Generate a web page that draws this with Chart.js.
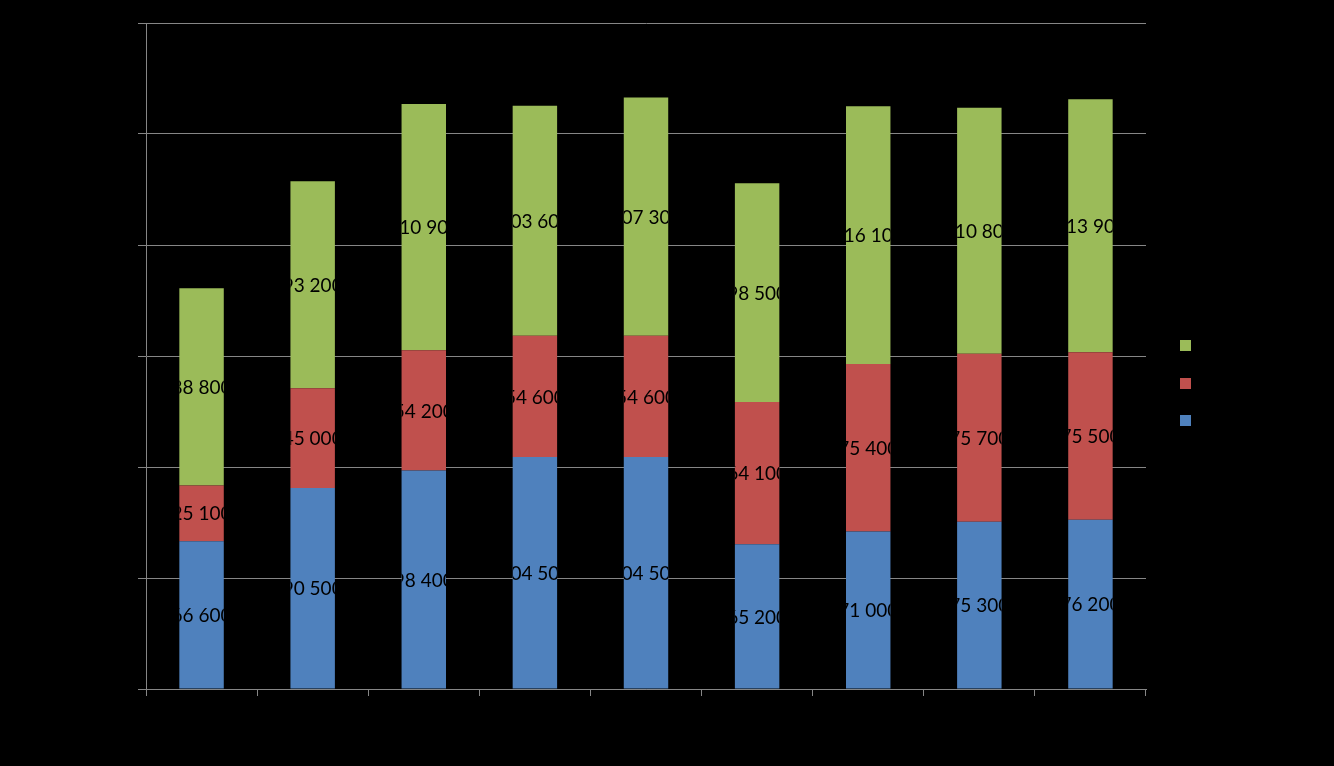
<!DOCTYPE html>
<html>
<head>
<meta charset="utf-8">
<script src="https://cdn.jsdelivr.net/npm/chart.js@4.4.0/dist/chart.umd.min.js"></script>
<style>
  html, body { margin: 0; padding: 0; background: #000; }
  #wrap { width: 1334px; height: 766px; position: relative; }
</style>
</head>
<body>
<div id="wrap"><canvas id="chart" width="1334" height="766"></canvas></div>
<script>
// data
const categories = ['1', '2', '3', '4', '5', '6', '7', '8', '9'];
const seriesNames = ['Series 1', 'Series 2', 'Series 3'];
const blueValues = [66600, 90500, 98400, 104500, 104500, 65200, 71000, 75300, 76200];
const redValues = [25100, 45000, 54200, 54600, 54600, 64100, 75400, 75700, 75500];
const greenValues = [88800, 93200, 110900, 103600, 107300, 98500, 116100, 110800, 113900];
const yMax = 300000;
const yStep = 50000;

const colors = ['#4F81BD', '#C0504D', '#9BBB59'];
const gridColor = '#868686';

function fmt(v) {
    return String(v).replace(/\B(?=(\d{3})+(?!\d))/g, ' ');
}

// labels inside each bar segment, clipped to the bar like the original
const barLabels = {
    id: 'barLabels',
    afterDatasetsDraw(chart) {
        const ctx = chart.ctx;
        chart.data.datasets.forEach((ds, i) => {
            const meta = chart.getDatasetMeta(i);
            meta.data.forEach((bar, j) => {
                const top = Math.min(bar.y, bar.base);
                const bottom = Math.max(bar.y, bar.base);
                ctx.save();
                ctx.beginPath();
                ctx.rect(bar.x - bar.width / 2, top, bar.width, bottom - top);
                ctx.clip();
                ctx.fillStyle = '#000';
                ctx.font = '19px Lato, "Open Sans", sans-serif';
                ctx.textAlign = 'center';
                ctx.textBaseline = 'middle';
                ctx.fillText(fmt(ds.data[j]), bar.x, (top + bottom) / 2 + 1);
                ctx.restore();
            });
        });
    }
};

// legend on the right: squares, text is black like the original
const sideLegend = {
    id: 'sideLegend',
    afterDraw(chart) {
        const ctx = chart.ctx;
        const area = chart.chartArea;
        const n = chart.data.datasets.length;
        const x = area.right + 34;
        const midY = chart.height / 2;
        ctx.save();
        ctx.font = '14px Lato, sans-serif';
        ctx.textBaseline = 'middle';
        for (let k = 0; k < n; k++) {
            const ds = chart.data.datasets[n - 1 - k];
            const cy = midY + (k - (n - 1) / 2) * 37.5;
            ctx.fillStyle = ds.backgroundColor;
            ctx.fillRect(x, Math.round(cy - 5.5), 11, 11);
            ctx.fillStyle = '#000';
            ctx.fillText(ds.label, x + 16, cy);
        }
        ctx.restore();
    }
};

const ctx = document.getElementById('chart').getContext('2d');
const chart = new Chart(ctx, {
    type: 'bar',
    data: {
        labels: categories,
        datasets: [
            { label: seriesNames[0], data: blueValues, backgroundColor: colors[0] },
            { label: seriesNames[1], data: redValues, backgroundColor: colors[1] },
            { label: seriesNames[2], data: greenValues, backgroundColor: colors[2] }
        ]
    },
    options: {
        responsive: false,
        animation: false,
        categoryPercentage: 1,
        barPercentage: 0.4,
        layout: { padding: { top: 23, right: 188, left: 0, bottom: 0 } },
        plugins: {
            legend: { display: false },
            tooltip: { enabled: false }
        },
        scales: {
            x: {
                stacked: true,
                grid: {
                    offset: true,
                    drawOnChartArea: false,
                    drawTicks: true,
                    tickLength: 7,
                    color: gridColor
                },
                border: { color: gridColor },
                ticks: { color: '#000' },
                afterFit(scale) { scale.height = 77; }
            },
            y: {
                stacked: true,
                min: 0,
                max: yMax,
                grid: {
                    color: gridColor,
                    tickLength: 8
                },
                border: { color: gridColor },
                ticks: {
                    stepSize: yStep,
                    color: '#000',
                    callback: v => fmt(v)
                },
                afterFit(scale) { scale.width = 146; }
            }
        }
    },
    plugins: [barLabels, sideLegend]
});
</script>
</body>
</html>
